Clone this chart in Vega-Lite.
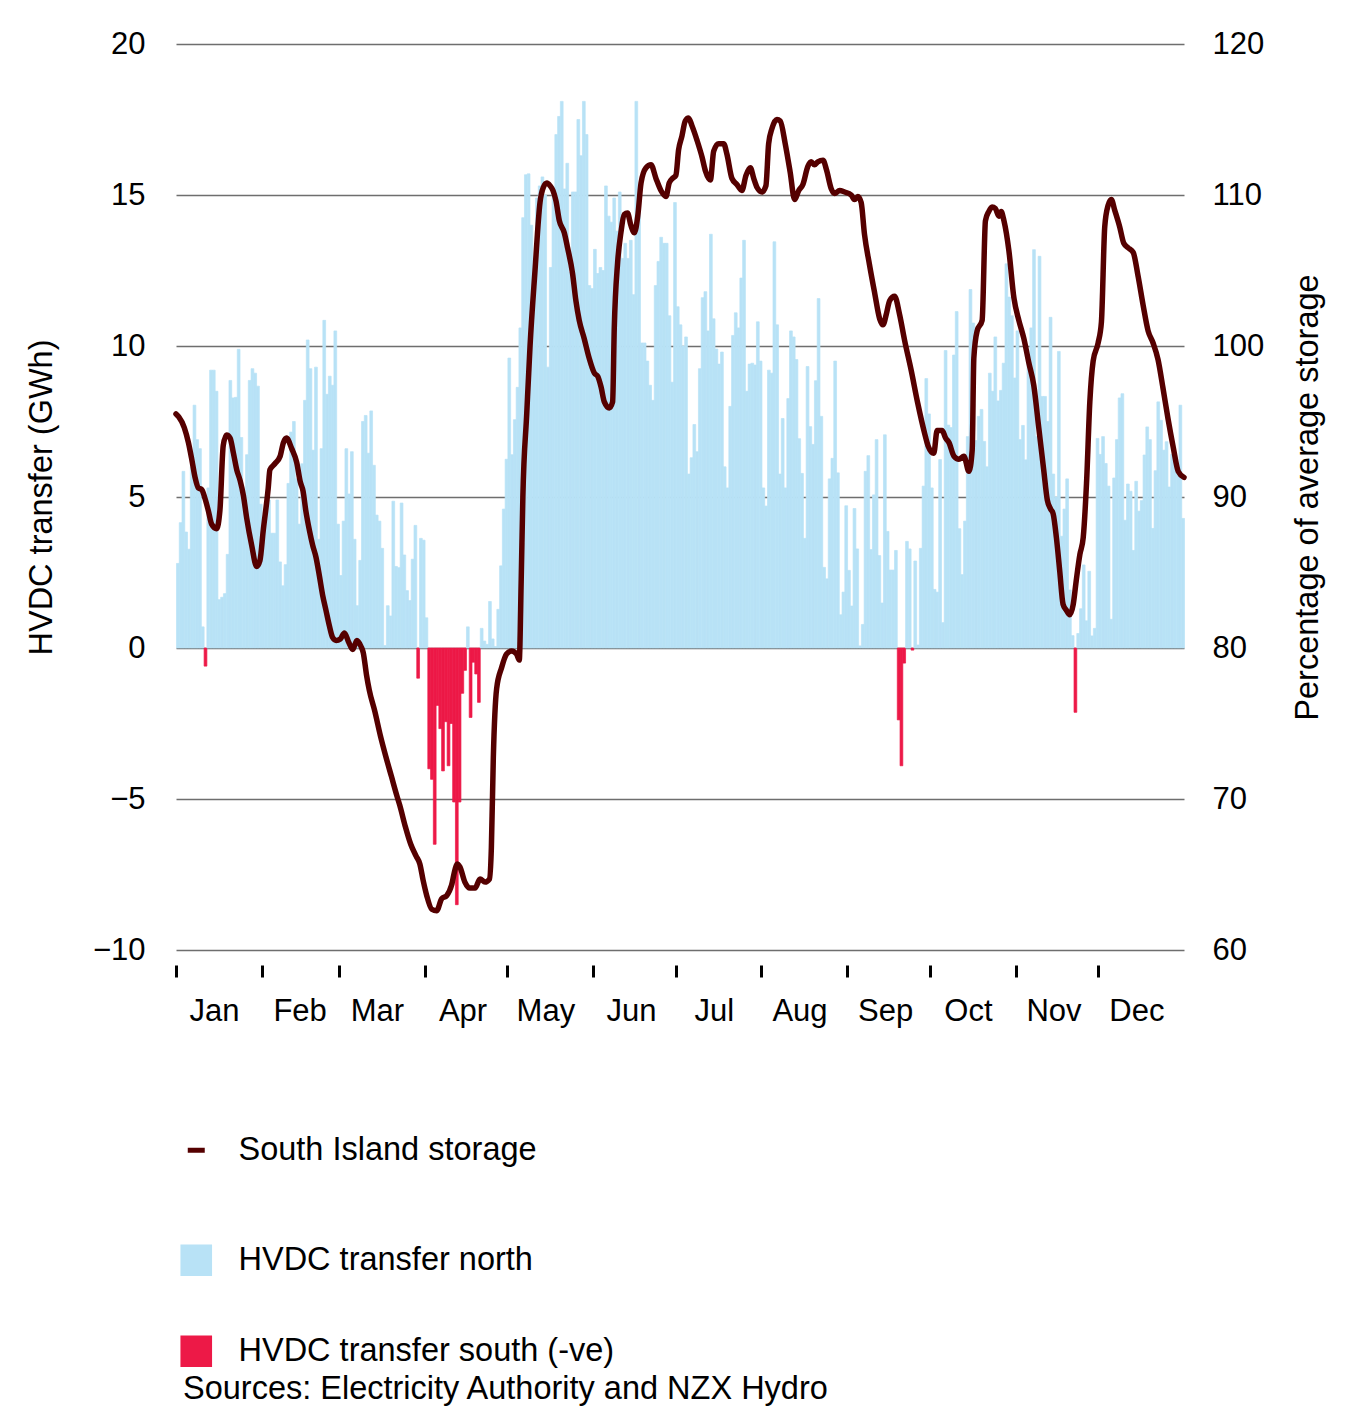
{
"$schema":"https://vega.github.io/schema/vega-lite/v6.json",
"width":1008,"height":906,
"autosize":{"type":"none"},
"padding":{"left":176,"top":44,"right":172,"bottom":460},
"background":"white",
"config":{"view":{"stroke":null},"font":"Liberation Sans",
 "axis":{"labelFont":"Liberation Sans","titleFont":"Liberation Sans","labelColor":"#000","titleColor":"#000","titleFontWeight":"normal","labelFontSize":31,"titleFontSize":32.5},
 "legend":{"labelFont":"Liberation Sans","labelFontSize":32.5,"labelColor":"#000","padding":0,"symbolOffset":0,"labelLimit":0}},
"title":{"text":"Sources: Electricity Authority and NZX Hydro","orient":"bottom","anchor":"start","frame":"group","offset":5,"fontSize":32.5,"fontWeight":"normal","font":"Liberation Sans","color":"#000","dx":7},
"datasets":{
"b":[
{"d":0,"v":2.8,"s":"N"},{"d":1,"v":4.15,"s":"N"},{"d":2,"v":5.85,"s":"N"},{"d":3,"v":3.84,"s":"N"},{"d":4,"v":3.27,"s":"N"},{"d":5,"v":6.0,"s":"N"},{"d":6,"v":8.04,"s":"N"},{"d":7,"v":6.9,"s":"N"},{"d":8,"v":6.6,"s":"N"},{"d":9,"v":0.7,"s":"N"},
{"d":10,"v":-0.6,"s":"S"},{"d":11,"v":5.3,"s":"N"},{"d":12,"v":9.2,"s":"N"},{"d":13,"v":9.2,"s":"N"},{"d":14,"v":8.5,"s":"N"},{"d":15,"v":1.6,"s":"N"},{"d":16,"v":1.68,"s":"N"},{"d":17,"v":1.8,"s":"N"},{"d":18,"v":3.1,"s":"N"},{"d":19,"v":8.86,"s":"N"},
{"d":20,"v":8.28,"s":"N"},{"d":21,"v":8.3,"s":"N"},{"d":22,"v":9.89,"s":"N"},{"d":23,"v":6.97,"s":"N"},{"d":24,"v":4.7,"s":"N"},{"d":25,"v":6.4,"s":"N"},{"d":26,"v":8.86,"s":"N"},{"d":27,"v":9.25,"s":"N"},{"d":28,"v":9.1,"s":"N"},{"d":29,"v":8.67,"s":"N"},
{"d":30,"v":4.76,"s":"N"},{"d":31,"v":3.8,"s":"N"},{"d":32,"v":4.5,"s":"N"},{"d":33,"v":4.9,"s":"N"},{"d":34,"v":3.8,"s":"N"},{"d":35,"v":3.8,"s":"N"},{"d":36,"v":4.9,"s":"N"},{"d":37,"v":2.85,"s":"N"},{"d":38,"v":2.06,"s":"N"},{"d":39,"v":2.76,"s":"N"},
{"d":40,"v":5.45,"s":"N"},{"d":41,"v":7.15,"s":"N"},{"d":42,"v":7.5,"s":"N"},{"d":43,"v":5.6,"s":"N"},{"d":44,"v":4.1,"s":"N"},{"d":45,"v":6.1,"s":"N"},{"d":46,"v":8.2,"s":"N"},{"d":47,"v":10.2,"s":"N"},{"d":48,"v":9.25,"s":"N"},{"d":49,"v":6.55,"s":"N"},
{"d":50,"v":9.3,"s":"N"},{"d":51,"v":3.6,"s":"N"},{"d":52,"v":6.6,"s":"N"},{"d":53,"v":10.85,"s":"N"},{"d":54,"v":8.4,"s":"N"},{"d":55,"v":9.0,"s":"N"},{"d":56,"v":8.7,"s":"N"},{"d":57,"v":10.5,"s":"N"},{"d":58,"v":4.1,"s":"N"},{"d":59,"v":2.4,"s":"N"},
{"d":60,"v":4.2,"s":"N"},{"d":61,"v":6.6,"s":"N"},{"d":62,"v":5.1,"s":"N"},{"d":63,"v":6.5,"s":"N"},{"d":64,"v":3.6,"s":"N"},{"d":65,"v":1.4,"s":"N"},{"d":66,"v":2.9,"s":"N"},{"d":67,"v":7.5,"s":"N"},{"d":68,"v":7.7,"s":"N"},{"d":69,"v":6.45,"s":"N"},
{"d":70,"v":7.85,"s":"N"},{"d":71,"v":6.05,"s":"N"},{"d":72,"v":4.4,"s":"N"},{"d":73,"v":4.2,"s":"N"},{"d":74,"v":3.3,"s":"N"},{"d":75,"v":0.08,"s":"N"},{"d":76,"v":1.4,"s":"N"},{"d":77,"v":1.06,"s":"N"},{"d":78,"v":4.86,"s":"N"},{"d":79,"v":2.7,"s":"N"},
{"d":80,"v":2.66,"s":"N"},{"d":81,"v":4.8,"s":"N"},{"d":82,"v":3.08,"s":"N"},{"d":83,"v":1.9,"s":"N"},{"d":84,"v":1.57,"s":"N"},{"d":85,"v":2.94,"s":"N"},{"d":86,"v":4.06,"s":"N"},{"d":87,"v":-1.0,"s":"S"},{"d":88,"v":3.63,"s":"N"},{"d":89,"v":3.57,"s":"N"},
{"d":90,"v":1.0,"s":"N"},{"d":91,"v":-4.0,"s":"S"},{"d":92,"v":-4.35,"s":"S"},{"d":93,"v":-6.5,"s":"S"},{"d":94,"v":-1.9,"s":"S"},{"d":95,"v":-2.67,"s":"S"},{"d":96,"v":-4.07,"s":"S"},{"d":97,"v":-2.44,"s":"S"},{"d":98,"v":-3.9,"s":"S"},{"d":99,"v":-2.5,"s":"S"},
{"d":100,"v":-5.1,"s":"S"},{"d":101,"v":-8.5,"s":"S"},{"d":102,"v":-5.1,"s":"S"},{"d":103,"v":-1.5,"s":"S"},{"d":104,"v":-0.74,"s":"S"},{"d":105,"v":0.7,"s":"N"},{"d":106,"v":-2.3,"s":"S"},{"d":107,"v":-0.47,"s":"S"},{"d":108,"v":-0.86,"s":"S"},{"d":109,"v":-1.8,"s":"S"},
{"d":110,"v":0.65,"s":"N"},{"d":111,"v":0.23,"s":"N"},{"d":112,"v":0.12,"s":"N"},{"d":113,"v":1.54,"s":"N"},{"d":114,"v":0.3,"s":"N"},{"d":115,"v":0.05,"s":"N"},{"d":116,"v":1.28,"s":"N"},{"d":117,"v":2.72,"s":"N"},{"d":118,"v":4.6,"s":"N"},{"d":119,"v":6.25,"s":"N"},
{"d":120,"v":9.6,"s":"N"},{"d":121,"v":6.4,"s":"N"},{"d":122,"v":7.56,"s":"N"},{"d":123,"v":8.63,"s":"N"},{"d":124,"v":10.6,"s":"N"},{"d":125,"v":14.25,"s":"N"},{"d":126,"v":15.67,"s":"N"},{"d":127,"v":15.7,"s":"N"},{"d":128,"v":14.0,"s":"N"},{"d":129,"v":12.3,"s":"N"},
{"d":130,"v":14.9,"s":"N"},{"d":131,"v":15.3,"s":"N"},{"d":132,"v":15.6,"s":"N"},{"d":133,"v":15.0,"s":"N"},{"d":134,"v":9.3,"s":"N"},{"d":135,"v":12.6,"s":"N"},{"d":136,"v":15.2,"s":"N"},{"d":137,"v":17.0,"s":"N"},{"d":138,"v":17.6,"s":"N"},{"d":139,"v":18.1,"s":"N"},
{"d":140,"v":15.2,"s":"N"},{"d":141,"v":16.05,"s":"N"},{"d":142,"v":12.44,"s":"N"},{"d":143,"v":15.1,"s":"N"},{"d":144,"v":15.1,"s":"N"},{"d":145,"v":17.5,"s":"N"},{"d":146,"v":16.3,"s":"N"},{"d":147,"v":18.1,"s":"N"},{"d":148,"v":17.0,"s":"N"},{"d":149,"v":12.0,"s":"N"},
{"d":150,"v":11.9,"s":"N"},{"d":151,"v":13.2,"s":"N"},{"d":152,"v":12.4,"s":"N"},{"d":153,"v":12.6,"s":"N"},{"d":154,"v":12.5,"s":"N"},{"d":155,"v":15.3,"s":"N"},{"d":156,"v":14.3,"s":"N"},{"d":157,"v":14.1,"s":"N"},{"d":158,"v":14.9,"s":"N"},{"d":159,"v":13.8,"s":"N"},
{"d":160,"v":15.1,"s":"N"},{"d":161,"v":12.9,"s":"N"},{"d":162,"v":13.4,"s":"N"},{"d":163,"v":12.9,"s":"N"},{"d":164,"v":13.5,"s":"N"},{"d":165,"v":11.7,"s":"N"},{"d":166,"v":18.1,"s":"N"},{"d":167,"v":14.8,"s":"N"},{"d":168,"v":10.1,"s":"N"},{"d":169,"v":10.1,"s":"N"},
{"d":170,"v":9.5,"s":"N"},{"d":171,"v":8.7,"s":"N"},{"d":172,"v":8.2,"s":"N"},{"d":173,"v":12.0,"s":"N"},{"d":174,"v":12.8,"s":"N"},{"d":175,"v":13.6,"s":"N"},{"d":176,"v":13.4,"s":"N"},{"d":177,"v":13.4,"s":"N"},{"d":178,"v":11.0,"s":"N"},{"d":179,"v":8.8,"s":"N"},
{"d":180,"v":14.75,"s":"N"},{"d":181,"v":11.3,"s":"N"},{"d":182,"v":10.7,"s":"N"},{"d":183,"v":10.0,"s":"N"},{"d":184,"v":10.3,"s":"N"},{"d":185,"v":5.76,"s":"N"},{"d":186,"v":6.3,"s":"N"},{"d":187,"v":7.4,"s":"N"},{"d":188,"v":6.5,"s":"N"},{"d":189,"v":9.25,"s":"N"},
{"d":190,"v":11.6,"s":"N"},{"d":191,"v":11.8,"s":"N"},{"d":192,"v":10.5,"s":"N"},{"d":193,"v":13.7,"s":"N"},{"d":194,"v":10.9,"s":"N"},{"d":195,"v":9.9,"s":"N"},{"d":196,"v":9.4,"s":"N"},{"d":197,"v":9.8,"s":"N"},{"d":198,"v":6.0,"s":"N"},{"d":199,"v":5.3,"s":"N"},
{"d":200,"v":8.0,"s":"N"},{"d":201,"v":10.35,"s":"N"},{"d":202,"v":11.1,"s":"N"},{"d":203,"v":10.6,"s":"N"},{"d":204,"v":12.25,"s":"N"},{"d":205,"v":13.5,"s":"N"},{"d":206,"v":8.5,"s":"N"},{"d":207,"v":9.4,"s":"N"},{"d":208,"v":9.43,"s":"N"},{"d":209,"v":9.37,"s":"N"},
{"d":210,"v":10.8,"s":"N"},{"d":211,"v":9.5,"s":"N"},{"d":212,"v":5.3,"s":"N"},{"d":213,"v":4.7,"s":"N"},{"d":214,"v":9.2,"s":"N"},{"d":215,"v":9.1,"s":"N"},{"d":216,"v":13.45,"s":"N"},{"d":217,"v":10.7,"s":"N"},{"d":218,"v":5.76,"s":"N"},{"d":219,"v":7.6,"s":"N"},
{"d":220,"v":5.3,"s":"N"},{"d":221,"v":8.26,"s":"N"},{"d":222,"v":10.5,"s":"N"},{"d":223,"v":10.3,"s":"N"},{"d":224,"v":9.55,"s":"N"},{"d":225,"v":6.93,"s":"N"},{"d":226,"v":5.78,"s":"N"},{"d":227,"v":3.63,"s":"N"},{"d":228,"v":9.32,"s":"N"},{"d":229,"v":7.33,"s":"N"},
{"d":230,"v":6.74,"s":"N"},{"d":231,"v":8.85,"s":"N"},{"d":232,"v":11.57,"s":"N"},{"d":233,"v":7.67,"s":"N"},{"d":234,"v":2.67,"s":"N"},{"d":235,"v":2.29,"s":"N"},{"d":236,"v":5.6,"s":"N"},{"d":237,"v":6.28,"s":"N"},{"d":238,"v":9.5,"s":"N"},{"d":239,"v":5.8,"s":"N"},
{"d":240,"v":1.1,"s":"N"},{"d":241,"v":1.85,"s":"N"},{"d":242,"v":4.71,"s":"N"},{"d":243,"v":2.57,"s":"N"},{"d":244,"v":1.39,"s":"N"},{"d":245,"v":4.62,"s":"N"},{"d":246,"v":3.28,"s":"N"},{"d":247,"v":0.07,"s":"N"},{"d":248,"v":0.78,"s":"N"},{"d":249,"v":5.85,"s":"N"},
{"d":250,"v":6.37,"s":"N"},{"d":251,"v":3.26,"s":"N"},{"d":252,"v":5.07,"s":"N"},{"d":253,"v":6.9,"s":"N"},{"d":254,"v":3.06,"s":"N"},{"d":255,"v":1.49,"s":"N"},{"d":256,"v":7.06,"s":"N"},{"d":257,"v":3.86,"s":"N"},{"d":258,"v":2.58,"s":"N"},{"d":259,"v":2.58,"s":"N"},
{"d":260,"v":3.23,"s":"N"},{"d":261,"v":-2.38,"s":"S"},{"d":262,"v":-3.9,"s":"S"},{"d":263,"v":-0.5,"s":"S"},{"d":264,"v":3.53,"s":"N"},{"d":265,"v":3.28,"s":"N"},{"d":266,"v":-0.07,"s":"S"},{"d":267,"v":2.88,"s":"N"},{"d":268,"v":0.1,"s":"N"},{"d":269,"v":3.3,"s":"N"},
{"d":270,"v":5.36,"s":"N"},{"d":271,"v":8.92,"s":"N"},{"d":272,"v":7.75,"s":"N"},{"d":273,"v":5.3,"s":"N"},{"d":274,"v":1.94,"s":"N"},{"d":275,"v":1.85,"s":"N"},{"d":276,"v":6.24,"s":"N"},{"d":277,"v":0.84,"s":"N"},{"d":278,"v":9.85,"s":"N"},{"d":279,"v":7.38,"s":"N"},
{"d":280,"v":7.3,"s":"N"},{"d":281,"v":9.7,"s":"N"},{"d":282,"v":11.14,"s":"N"},{"d":283,"v":3.95,"s":"N"},{"d":284,"v":2.43,"s":"N"},{"d":285,"v":4.2,"s":"N"},{"d":286,"v":7.0,"s":"N"},{"d":287,"v":11.87,"s":"N"},{"d":288,"v":10.76,"s":"N"},{"d":289,"v":6.87,"s":"N"},
{"d":290,"v":7.67,"s":"N"},{"d":291,"v":7.9,"s":"N"},{"d":292,"v":6.84,"s":"N"},{"d":293,"v":6.0,"s":"N"},{"d":294,"v":9.1,"s":"N"},{"d":295,"v":8.5,"s":"N"},{"d":296,"v":10.3,"s":"N"},{"d":297,"v":8.18,"s":"N"},{"d":298,"v":8.53,"s":"N"},{"d":299,"v":9.43,"s":"N"},
{"d":300,"v":12.72,"s":"N"},{"d":301,"v":11.62,"s":"N"},{"d":302,"v":11.0,"s":"N"},{"d":303,"v":8.94,"s":"N"},{"d":304,"v":10.5,"s":"N"},{"d":305,"v":6.9,"s":"N"},{"d":306,"v":7.37,"s":"N"},{"d":307,"v":6.23,"s":"N"},{"d":308,"v":9.47,"s":"N"},{"d":309,"v":10.6,"s":"N"},
{"d":310,"v":13.19,"s":"N"},{"d":311,"v":7.0,"s":"N"},{"d":312,"v":12.97,"s":"N"},{"d":313,"v":8.33,"s":"N"},{"d":314,"v":8.33,"s":"N"},{"d":315,"v":7.5,"s":"N"},{"d":316,"v":10.95,"s":"N"},{"d":317,"v":5.76,"s":"N"},{"d":318,"v":5.0,"s":"N"},{"d":319,"v":9.82,"s":"N"},
{"d":320,"v":3.7,"s":"N"},{"d":321,"v":4.6,"s":"N"},{"d":322,"v":5.6,"s":"N"},{"d":323,"v":1.92,"s":"N"},{"d":324,"v":0.41,"s":"N"},{"d":325,"v":-2.13,"s":"S"},{"d":326,"v":0.48,"s":"N"},{"d":327,"v":1.3,"s":"N"},{"d":328,"v":2.75,"s":"N"},{"d":329,"v":0.9,"s":"N"},
{"d":330,"v":2.54,"s":"N"},{"d":331,"v":0.4,"s":"N"},{"d":332,"v":0.65,"s":"N"},{"d":333,"v":6.94,"s":"N"},{"d":334,"v":6.41,"s":"N"},{"d":335,"v":7.0,"s":"N"},{"d":336,"v":6.11,"s":"N"},{"d":337,"v":5.36,"s":"N"},{"d":338,"v":0.95,"s":"N"},{"d":339,"v":5.63,"s":"N"},
{"d":340,"v":6.9,"s":"N"},{"d":341,"v":8.28,"s":"N"},{"d":342,"v":8.42,"s":"N"},{"d":343,"v":4.23,"s":"N"},{"d":344,"v":5.43,"s":"N"},{"d":345,"v":5.19,"s":"N"},{"d":346,"v":3.23,"s":"N"},{"d":347,"v":5.52,"s":"N"},{"d":348,"v":4.53,"s":"N"},{"d":349,"v":4.88,"s":"N"},
{"d":350,"v":6.39,"s":"N"},{"d":351,"v":7.32,"s":"N"},{"d":352,"v":6.9,"s":"N"},{"d":353,"v":3.96,"s":"N"},{"d":354,"v":5.87,"s":"N"},{"d":355,"v":8.15,"s":"N"},{"d":356,"v":7.54,"s":"N"},{"d":357,"v":6.55,"s":"N"},{"d":358,"v":6.83,"s":"N"},{"d":359,"v":5.33,"s":"N"},
{"d":360,"v":6.41,"s":"N"},{"d":361,"v":6.3,"s":"N"},{"d":362,"v":5.9,"s":"N"},{"d":363,"v":8.04,"s":"N"},{"d":364,"v":4.29,"s":"N"}
],
"l":[
{"t":0,"p":95.5},{"t":1,"p":95.3},{"t":3,"p":94.6},{"t":4.5,"p":93.6},{"t":5.7,"p":92.5},{"t":6.9,"p":91.3},{"t":8.1,"p":90.6},{"t":9.3,"p":90.5},{"t":10.5,"p":89.9},{"t":11.7,"p":89.1},
{"t":12.9,"p":88.2},{"t":14.7,"p":87.9},{"t":15.9,"p":89.1},{"t":17.1,"p":93.4},{"t":18.3,"p":94.1},{"t":19.6,"p":93.9},{"t":20.8,"p":92.9},{"t":22,"p":91.8},{"t":23.2,"p":91.1},{"t":24.4,"p":90.1},
{"t":25.6,"p":88.6},{"t":27.4,"p":86.8},{"t":29.2,"p":85.4},{"t":30.4,"p":85.8},{"t":31.6,"p":87.8},{"t":33.4,"p":90.6},{"t":34,"p":91.8},{"t":35.8,"p":92.2},{"t":37.7,"p":92.7},{"t":38.9,"p":93.6},
{"t":40,"p":93.9},{"t":41.9,"p":93.2},{"t":43.7,"p":92.3},{"t":45,"p":91.0},{"t":46,"p":90.4},{"t":47,"p":89.1},{"t":48.3,"p":87.8},{"t":49.5,"p":86.8},{"t":50.7,"p":86.0},{"t":51.9,"p":84.8},
{"t":53.1,"p":83.5},{"t":54.3,"p":82.5},{"t":55.5,"p":81.5},{"t":56.7,"p":80.7},{"t":58,"p":80.5},{"t":59.5,"p":80.6},{"t":61,"p":81.0},{"t":62.5,"p":80.4},{"t":64,"p":79.9},{"t":65.5,"p":80.5},
{"t":67,"p":80.1},{"t":67.8,"p":79.7},{"t":69,"p":78.2},{"t":70,"p":77.2},{"t":72,"p":75.8},{"t":74,"p":74.2},{"t":76,"p":72.8},{"t":78,"p":71.5},{"t":80,"p":70.2},{"t":81,"p":69.6},
{"t":83,"p":68.2},{"t":85,"p":67.0},{"t":87,"p":66.2},{"t":88.3,"p":65.7},{"t":89.5,"p":64.6},{"t":90.8,"p":63.6},{"t":92.6,"p":62.7},{"t":94.4,"p":62.6},{"t":96.2,"p":63.4},{"t":98,"p":63.6},
{"t":99.8,"p":64.3},{"t":101,"p":65.3},{"t":101.8,"p":65.7},{"t":102.8,"p":65.5},{"t":104.6,"p":64.5},{"t":106.4,"p":64.1},{"t":108.3,"p":64.1},{"t":110.1,"p":64.7},{"t":111.9,"p":64.5},{"t":113.5,"p":64.7},
{"t":114.2,"p":66.8},{"t":114.9,"p":72.7},{"t":116.1,"p":77.3},{"t":117.9,"p":78.7},{"t":119.7,"p":79.6},{"t":121.5,"p":79.8},{"t":123.3,"p":79.6},{"t":124.3,"p":79.2},{"t":125,"p":84.5},{"t":125.6,"p":90},
{"t":127,"p":95.5},{"t":128.2,"p":100},{"t":130,"p":105},{"t":131.8,"p":109.5},{"t":133,"p":110.5},{"t":134.3,"p":110.8},{"t":135.5,"p":110.6},{"t":136.5,"p":110.3},{"t":137.6,"p":109.6},{"t":138.8,"p":108.3},
{"t":140.6,"p":107.5},{"t":141.8,"p":106.5},{"t":143.6,"p":104.8},{"t":144.8,"p":103},{"t":146,"p":101.7},{"t":147.8,"p":100.5},{"t":149.6,"p":99.2},{"t":151.5,"p":98.2},{"t":152.7,"p":98.0},{"t":153.9,"p":97.3},
{"t":155.1,"p":96.3},{"t":156.9,"p":95.9},{"t":158.1,"p":96.3},{"t":158.7,"p":101.2},{"t":159.9,"p":105.5},{"t":161.1,"p":107.5},{"t":162.3,"p":108.7},{"t":163.5,"p":108.8},{"t":164.7,"p":108.0},{"t":166,"p":107.5},
{"t":167.2,"p":108.6},{"t":168.4,"p":110.8},{"t":170.2,"p":111.8},{"t":172,"p":112.0},{"t":173.8,"p":111.1},{"t":175.6,"p":110.3},{"t":177.4,"p":109.9},{"t":178.6,"p":110.8},{"t":179.8,"p":111.1},{"t":181,"p":111.3},
{"t":182,"p":113.0},{"t":183.2,"p":113.9},{"t":184.4,"p":114.9},{"t":185.6,"p":115.1},{"t":186.8,"p":114.6},{"t":188.7,"p":113.6},{"t":190.5,"p":112.5},{"t":191.7,"p":111.6},{"t":193.5,"p":111.0},{"t":194.7,"p":112.9},
{"t":196.5,"p":113.4},{"t":198.3,"p":113.4},{"t":199.5,"p":112.7},{"t":201.3,"p":111.1},{"t":203.1,"p":110.7},{"t":204.9,"p":110.3},{"t":206.4,"p":111.3},{"t":208,"p":111.8},{"t":209.2,"p":111.1},{"t":210.4,"p":110.5},
{"t":212.2,"p":110.2},{"t":213.6,"p":110.6},{"t":214.6,"p":113.4},{"t":215.8,"p":114.4},{"t":217.6,"p":115.0},{"t":218.8,"p":114.9},{"t":220.6,"p":113.4},{"t":222.4,"p":111.5},{"t":224,"p":109.7},{"t":225.5,"p":110.3},
{"t":227,"p":110.7},{"t":228.8,"p":111.9},{"t":230,"p":112.2},{"t":231.2,"p":112.0},{"t":232.4,"p":112.2},{"t":234.3,"p":112.3},{"t":235.5,"p":111.7},{"t":237.3,"p":110.4},{"t":238.5,"p":110.1},{"t":240.3,"p":110.3},
{"t":242.1,"p":110.2},{"t":244.5,"p":110.0},{"t":245.7,"p":109.7},{"t":246.9,"p":109.9},{"t":248.1,"p":109.5},{"t":249.3,"p":107.4},{"t":251.1,"p":105.4},{"t":253,"p":103.5},{"t":254.8,"p":101.8},{"t":256,"p":101.4},
{"t":257.2,"p":102.1},{"t":258.4,"p":103.0},{"t":260.2,"p":103.3},{"t":262,"p":102.1},{"t":263.8,"p":100.4},{"t":266.2,"p":98.4},{"t":268.6,"p":96.2},{"t":271.1,"p":94.2},{"t":272.3,"p":93.4},{"t":274.4,"p":92.9},
{"t":275.6,"p":94.4},{"t":277.4,"p":94.4},{"t":278.7,"p":93.9},{"t":279.9,"p":93.6},{"t":281.7,"p":92.7},{"t":283.5,"p":92.5},{"t":285.3,"p":92.7},{"t":287.1,"p":91.7},{"t":288.3,"p":93.1},{"t":288.9,"p":99.2},
{"t":290.1,"p":101.0},{"t":291.9,"p":101.7},{"t":293.1,"p":108.3},{"t":294.3,"p":108.9},{"t":295.5,"p":109.2},{"t":296.7,"p":109.1},{"t":298,"p":108.6},{"t":298.8,"p":108.9},{"t":299.8,"p":108.3},{"t":301.6,"p":106.3},
{"t":303.4,"p":103.2},{"t":305.2,"p":101.7},{"t":307,"p":100.5},{"t":308.8,"p":98.9},{"t":310.6,"p":97.4},{"t":312.4,"p":94.6},{"t":314.2,"p":91.8},{"t":315.5,"p":89.8},{"t":316.7,"p":89.2},{"t":317.6,"p":88.9},
{"t":318.8,"p":87.3},{"t":320,"p":85.1},{"t":321.2,"p":82.9},{"t":322.4,"p":82.5},{"t":323.6,"p":82.2},{"t":324.9,"p":82.9},{"t":326,"p":84.5},{"t":327.3,"p":86.2},{"t":328.5,"p":87.3},{"t":329.7,"p":90.9},
{"t":330.9,"p":96.3},{"t":332.1,"p":99.0},{"t":333.9,"p":100.2},{"t":335.1,"p":101.6},{"t":336.3,"p":107.9},{"t":337.5,"p":109.3},{"t":338.7,"p":109.7},{"t":339.9,"p":109.0},{"t":341.7,"p":107.9},{"t":343.2,"p":106.8},
{"t":344.8,"p":106.5},{"t":346.6,"p":106.2},{"t":348.4,"p":104.6},{"t":350.2,"p":102.7},{"t":352,"p":101.0},{"t":353.8,"p":100.2},{"t":355.6,"p":99.1},{"t":357.4,"p":97.2},{"t":359.2,"p":95.2},{"t":361.1,"p":93.3},
{"t":362.9,"p":91.7},{"t":365,"p":91.3}
]},
"layer":[
{"data":{"name":"b"},
 "mark":{"type":"bar","binSpacing":0,"strokeWidth":0.7},
 "encoding":{
  "x":{"field":"d","type":"quantitative","bin":{"binned":true,"step":1},"scale":{"domain":[0,365],"nice":false,"zero":false},
   "axis":{"values":[0,31,59,90,120,151,181,212,243,273,304,334],"labelExpr":"timeFormat(datetime(2019, 0, datum.value + 1), '%b')","title":null,"domain":false,"grid":false,"ticks":true,"tickSize":12,"tickWidth":3,"tickColor":"#000","offset":15,"labelOffset":38,"labelPadding":19,"labelFlush":false,"labelOverlap":false,"labelBound":false}},
  "y":{"field":"v","type":"quantitative","scale":{"domain":[-10,20],"nice":false,"zero":false},
   "axis":{"values":[-10,-5,0,5,10,15,20],"title":"HVDC transfer (GWh)","domain":false,"ticks":false,"labelPadding":31,"grid":true,"gridColor":"#6e6e6e","gridWidth":1.5,"titlePadding":34}},
  "color":{"field":"s","type":"nominal","scale":{"domain":["N","S"],"range":["#b8e2f6","#ed1947"]},
   "legend":{"orient":"none","legendX":4,"legendY":1200,"title":null,"symbolType":"square","symbolSize":1000,"symbolStrokeWidth":0,"rowPadding":58,"labelOffset":26,"labelExpr":"datum.label == 'N' ? 'HVDC transfer north' : 'HVDC transfer south (-ve)'"}},
  "stroke":{"field":"s","type":"nominal","scale":{"domain":["N","S"],"range":["#b8e2f6","#ed1947"]},"legend":null}
 }},
{"data":{"name":"l"},
 "mark":{"type":"line","strokeWidth":5.5,"interpolate":"monotone","strokeCap":"round","strokeJoin":"round"},
 "encoding":{
  "x":{"field":"t","type":"quantitative"},
  "y":{"field":"p","type":"quantitative","scale":{"domain":[60,120],"nice":false,"zero":false},
   "axis":{"orient":"right","values":[60,70,80,90,100,110,120],"title":"Percentage of average storage","titleAngle":270,"domain":false,"ticks":false,"grid":false,"labelPadding":28,"titlePadding":61}},
  "stroke":{"datum":"South Island storage","type":"nominal","scale":{"domain":["South Island storage"],"range":["#550000"]},
   "legend":{"orient":"none","legendX":4,"legendY":1090,"title":null,"symbolType":"stroke","symbolSize":289,"symbolStrokeWidth":5,"labelOffset":26}}
 }}
],
"resolve":{"scale":{"y":"independent","stroke":"independent"}}
}
